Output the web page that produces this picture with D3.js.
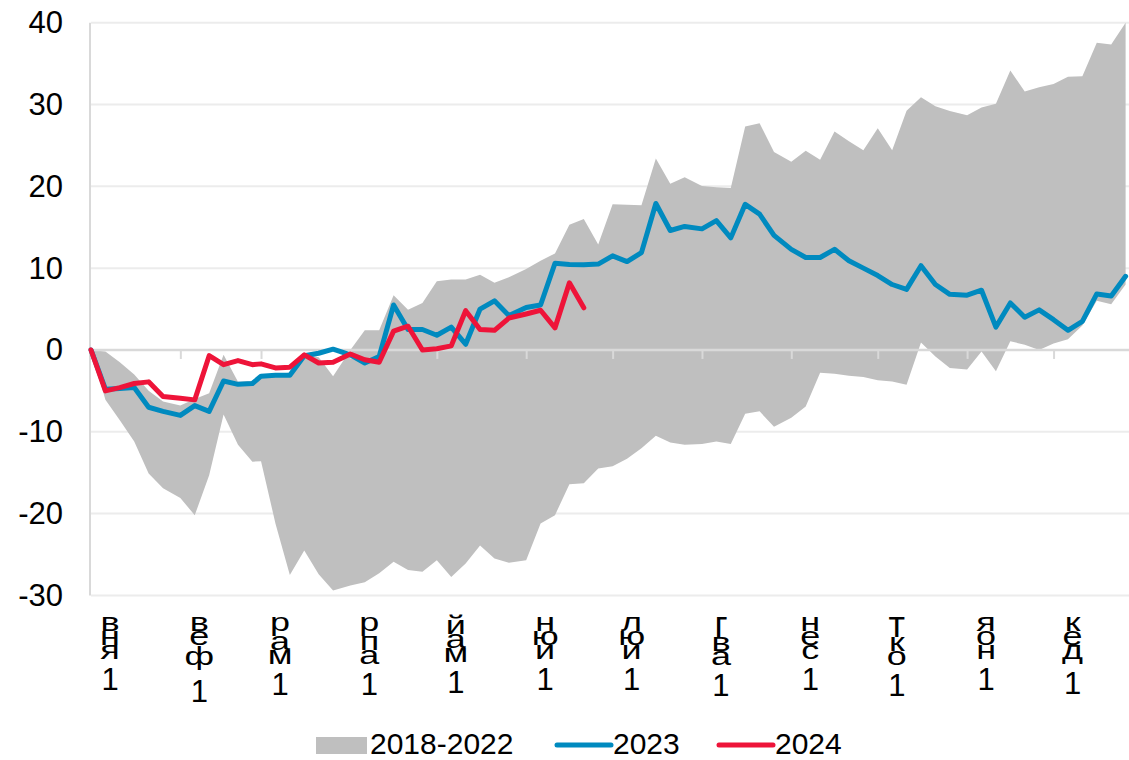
<!DOCTYPE html>
<html>
<head>
<meta charset="utf-8">
<script src="https://cdn.jsdelivr.net/npm/d3@7"></script>
<style>
  body { margin: 0; background: #fff; }
  svg { display: block; }
</style>
</head>
<body>
<div id="chart"></div>
<script>
////////////////////////////////////////
// data: 6 points per month (1, 6, 11, 16, 21, 26)
////////////////////////////////////////
var monthLabels = ["1янв", "1фев", "1мар", "1апр", "1май", "1июн",
                   "1июл", "1авг", "1сен", "1окт", "1ноя", "1дек"];
var pointDays = [1, 6, 11, 16, 21, 26];
var yTicks = [-30, -20, -10, 0, 10, 20, 30, 40];
var seriesNames = ["2018-2022", "2023", "2024"];

var bandLow = [0, -6.1, -8.6, -11.2, -15.1, -16.9, -18.1, -20.2, -15.3, -7.9, -11.6, -13.65,
               -13.6, -21.2, -27.5, -24.5, -27.4, -29.4, -28.8, -28.4, -27.3, -25.9, -26.9, -27.1,
               -25.7, -27.75, -26.1, -23.9, -25.5, -26.0, -25.7, -21.2, -20.2, -16.4, -16.3, -14.5,
               -14.2, -13.3, -12.0, -10.5, -11.3, -11.6, -11.5, -11.2, -11.5, -7.8, -7.5, -9.4,
               -8.3, -6.9, -2.8, -2.9, -3.15, -3.3, -3.7, -3.85, -4.25, 0.9, -0.8, -2.2,
               -2.4, -0.2, -2.6, 1.05, 0.65, 0.0, 0.8, 1.3, 3.0, 6.0, 5.6, 8.0];

var bandHigh = [0, -0.2, -1.5, -3.0, -5.0, -6.3, -6.8, -6.0, -5.3, -0.6, -3.9, -3.8,
                -3.0, -2.9, -2.8, -0.5, -0.9, -3.2, 0.0, 2.4, 2.4, 6.7, 4.9, 5.75,
                8.4, 8.6, 8.6, 9.2, 8.2, 8.9, 9.9, 10.9, 11.8, 15.3, 16.0, 12.9,
                17.8, 17.75, 17.7, 23.4, 20.3, 21.1, 20.05, 19.9, 19.8, 27.3, 27.7, 24.2,
                23.0, 24.35, 23.25, 26.7, 25.5, 24.4, 27.1, 24.4, 29.25, 30.9, 29.8, 29.2,
                28.7, 29.65, 30.1, 34.15, 31.6, 32.1, 32.5, 33.4, 33.45, 37.55, 37.35, 40.0];

var values2023 = [0, -4.8, -4.7, -4.6, -7.0, -7.5, -8.0, -6.8, -7.5, -3.8, -4.2, -4.1,
                  -3.2, -3.1, -3.1, -0.7, -0.4, 0.1, -0.6, -1.6, -0.8, 5.5, 2.5, 2.5,
                  1.8, 2.8, 0.7, 5.0, 6.0, 4.2, 5.2, 5.5, 10.6, 10.45, 10.4, 10.5,
                  11.5, 10.8, 11.9, 17.9, 14.6, 15.1, 14.8, 15.8, 13.7, 17.8, 16.6, 14.0,
                  12.3, 11.3, 11.3, 12.3, 10.9, 10.0, 9.1, 8.0, 7.4, 10.3, 8.0, 6.8,
                  6.7, 7.3, 2.8, 5.75, 4.0, 4.9, 3.7, 2.4, 3.5, 6.85, 6.6, 9.0];

var values2024 = [0, -5.0, -4.6, -4.1, -3.9, -5.7, -5.9, -6.1, -0.7, -1.8, -1.3, -1.8,
                  -1.7, -2.2, -2.1, -0.6, -1.6, -1.5, -0.5, -1.2, -1.5, 2.3, 2.9, 0.0,
                  0.15, 0.5, 4.8, 2.5, 2.4, 3.9, 4.4, 4.85, 2.7, 8.2, 5.15];

////////////////////////////////////////

var colorBand = "#bfbfbf";
var color2023 = "#008abf";
var color2024 = "#ee1439";
var fontFamily = "'Liberation Sans', Arial, sans-serif";

var width = 1129, height = 760;

// one date per point
var dates = [];
for (var m = 0; m < 12; m++) {
    for (var k = 0; k < pointDays.length; k++) {
        dates.push(new Date(2023, m, pointDays[k]));
    }
}
var monthStarts = d3.range(12).map(function (m) { return new Date(2023, m, 1); });

var svg = d3.select("#chart").append("svg")
    .attr("width", width)
    .attr("height", height)
    .style("font-family", fontFamily);

var x = d3.scaleTime()
    .domain([dates[0], dates[dates.length - 1]])
    .range([91, 1125.6]);

var y = d3.scaleLinear()
    .domain([-30, 40])
    .range([595.4, 22.7]);

// gridlines (behind the band)
svg.append("g")
    .selectAll("line")
    .data(yTicks.filter(function (t) { return t !== 0; }))
    .join("line")
    .attr("x1", 91).attr("x2", width)
    .attr("y1", function (d) { return y(d); })
    .attr("y2", function (d) { return y(d); })
    .attr("stroke", "#ececec")
    .attr("stroke-width", 2);

// 2018-2022 range band
var bandData = dates.map(function (d, i) { return { date: d, lo: bandLow[i], hi: bandHigh[i] }; });
var area = d3.area()
    .x(function (d) { return x(d.date); })
    .y0(function (d) { return y(d.lo); })
    .y1(function (d) { return y(d.hi); });

svg.append("path")
    .datum(bandData)
    .attr("fill", colorBand)
    .attr("d", area);

// y axis line
svg.append("line")
    .attr("x1", 90).attr("x2", 90)
    .attr("y1", y(40)).attr("y2", y(-30))
    .attr("stroke", "#d9d9d9")
    .attr("stroke-width", 2);

// zero line with month ticks
var xAxis = d3.axisBottom(x)
    .tickValues(monthStarts)
    .tickSize(9)
    .tickFormat("");
var gx = svg.append("g")
    .attr("transform", "translate(0," + y(0) + ")")
    .call(xAxis);
gx.select(".domain").remove();
gx.selectAll(".tick line").attr("stroke", "#d9d9d9").attr("stroke-width", 2);
gx.append("line")
    .attr("x1", 90).attr("x2", width)
    .attr("stroke", "#d9d9d9")
    .attr("stroke-width", 2.5);

// y tick labels (plain hyphen for negatives)
var yAxis = d3.axisLeft(y)
    .tickValues(yTicks)
    .tickSize(0)
    .tickPadding(0)
    .tickFormat(function (d) { return String(d); });
var gy = svg.append("g")
    .attr("transform", "translate(63,0)")
    .call(yAxis);
gy.select(".domain").remove();
gy.selectAll("text")
    .attr("fill", "#000")
    .style("font-size", "31px")
    .style("font-family", fontFamily);

// month labels: characters stacked, read bottom to top
// a = ink height above baseline, d = below, s = vertical squash
var glyph = function (ch) {
    if (/[0-9]/.test(ch)) return { a: 22, d: 0, s: 1, gap: 9, fs: 31 };
    if (ch === "й") return { a: 16, d: 0, s: 0.7, gap: 1, fs: 36 };
    if (ch === "ф") return { a: 19, d: 6, s: 0.7, gap: 1, fs: 36 };
    if (ch === "р") return { a: 13, d: 5, s: 0.7, gap: 1, fs: 36 };
    if (ch === "д") return { a: 13, d: 4, s: 0.7, gap: 1, fs: 36 };
    if (ch === "т" || ch === "г") return { a: 19, d: 0, s: 1, gap: 1, fs: 36 };
    return { a: 13, d: 0, s: 0.7, gap: 1, fs: 36 };
};

var labelGroups = svg.append("g")
    .selectAll("g")
    .data(monthStarts)
    .join("g");

labelGroups.each(function (d, i) {
    var chars = monthLabels[i].split("").reverse();
    var cx = x(d) + 19;
    var top = 618;
    var g = d3.select(this);
    chars.forEach(function (ch, j) {
        var gl = glyph(ch);
        if (j > 0) top += gl.gap;
        var base = top + gl.a;
        g.append("text")
            .attr("transform", "translate(" + cx + "," + base + ") scale(1," + gl.s + ")")
            .attr("text-anchor", "middle")
            .style("font-size", gl.fs + "px")
            .attr("fill", "#000")
            .text(ch);
        top = base + gl.d;
    });
});

// lines
var line = d3.line()
    .x(function (d) { return x(d.date); })
    .y(function (d) { return y(d.v); });

svg.append("path")
    .datum(values2023.map(function (v, i) { return { date: dates[i], v: v }; }))
    .attr("fill", "none")
    .attr("stroke", color2023)
    .attr("stroke-width", 5)
    .attr("stroke-linejoin", "round")
    .attr("stroke-linecap", "round")
    .attr("d", line);

svg.append("path")
    .datum(values2024.map(function (v, i) { return { date: dates[i], v: v }; }))
    .attr("fill", "none")
    .attr("stroke", color2024)
    .attr("stroke-width", 5)
    .attr("stroke-linejoin", "round")
    .attr("stroke-linecap", "round")
    .attr("d", line);

// legend
var legend = svg.append("g").style("font-size", "30px");
legend.append("rect")
    .attr("x", 316).attr("y", 737)
    .attr("width", 51).attr("height", 17)
    .attr("fill", colorBand);
legend.append("text")
    .attr("x", 370).attr("y", 753.5)
    .text(seriesNames[0]);

legend.append("line")
    .attr("x1", 557).attr("x2", 611)
    .attr("y1", 745).attr("y2", 745)
    .attr("stroke", color2023)
    .attr("stroke-width", 5)
    .attr("stroke-linecap", "round");
legend.append("text")
    .attr("x", 613).attr("y", 753.5)
    .text(seriesNames[1]);

legend.append("line")
    .attr("x1", 719).attr("x2", 773)
    .attr("y1", 745).attr("y2", 745)
    .attr("stroke", color2024)
    .attr("stroke-width", 5)
    .attr("stroke-linecap", "round");
legend.append("text")
    .attr("x", 775).attr("y", 753.5)
    .text(seriesNames[2]);
</script>
</body>
</html>
